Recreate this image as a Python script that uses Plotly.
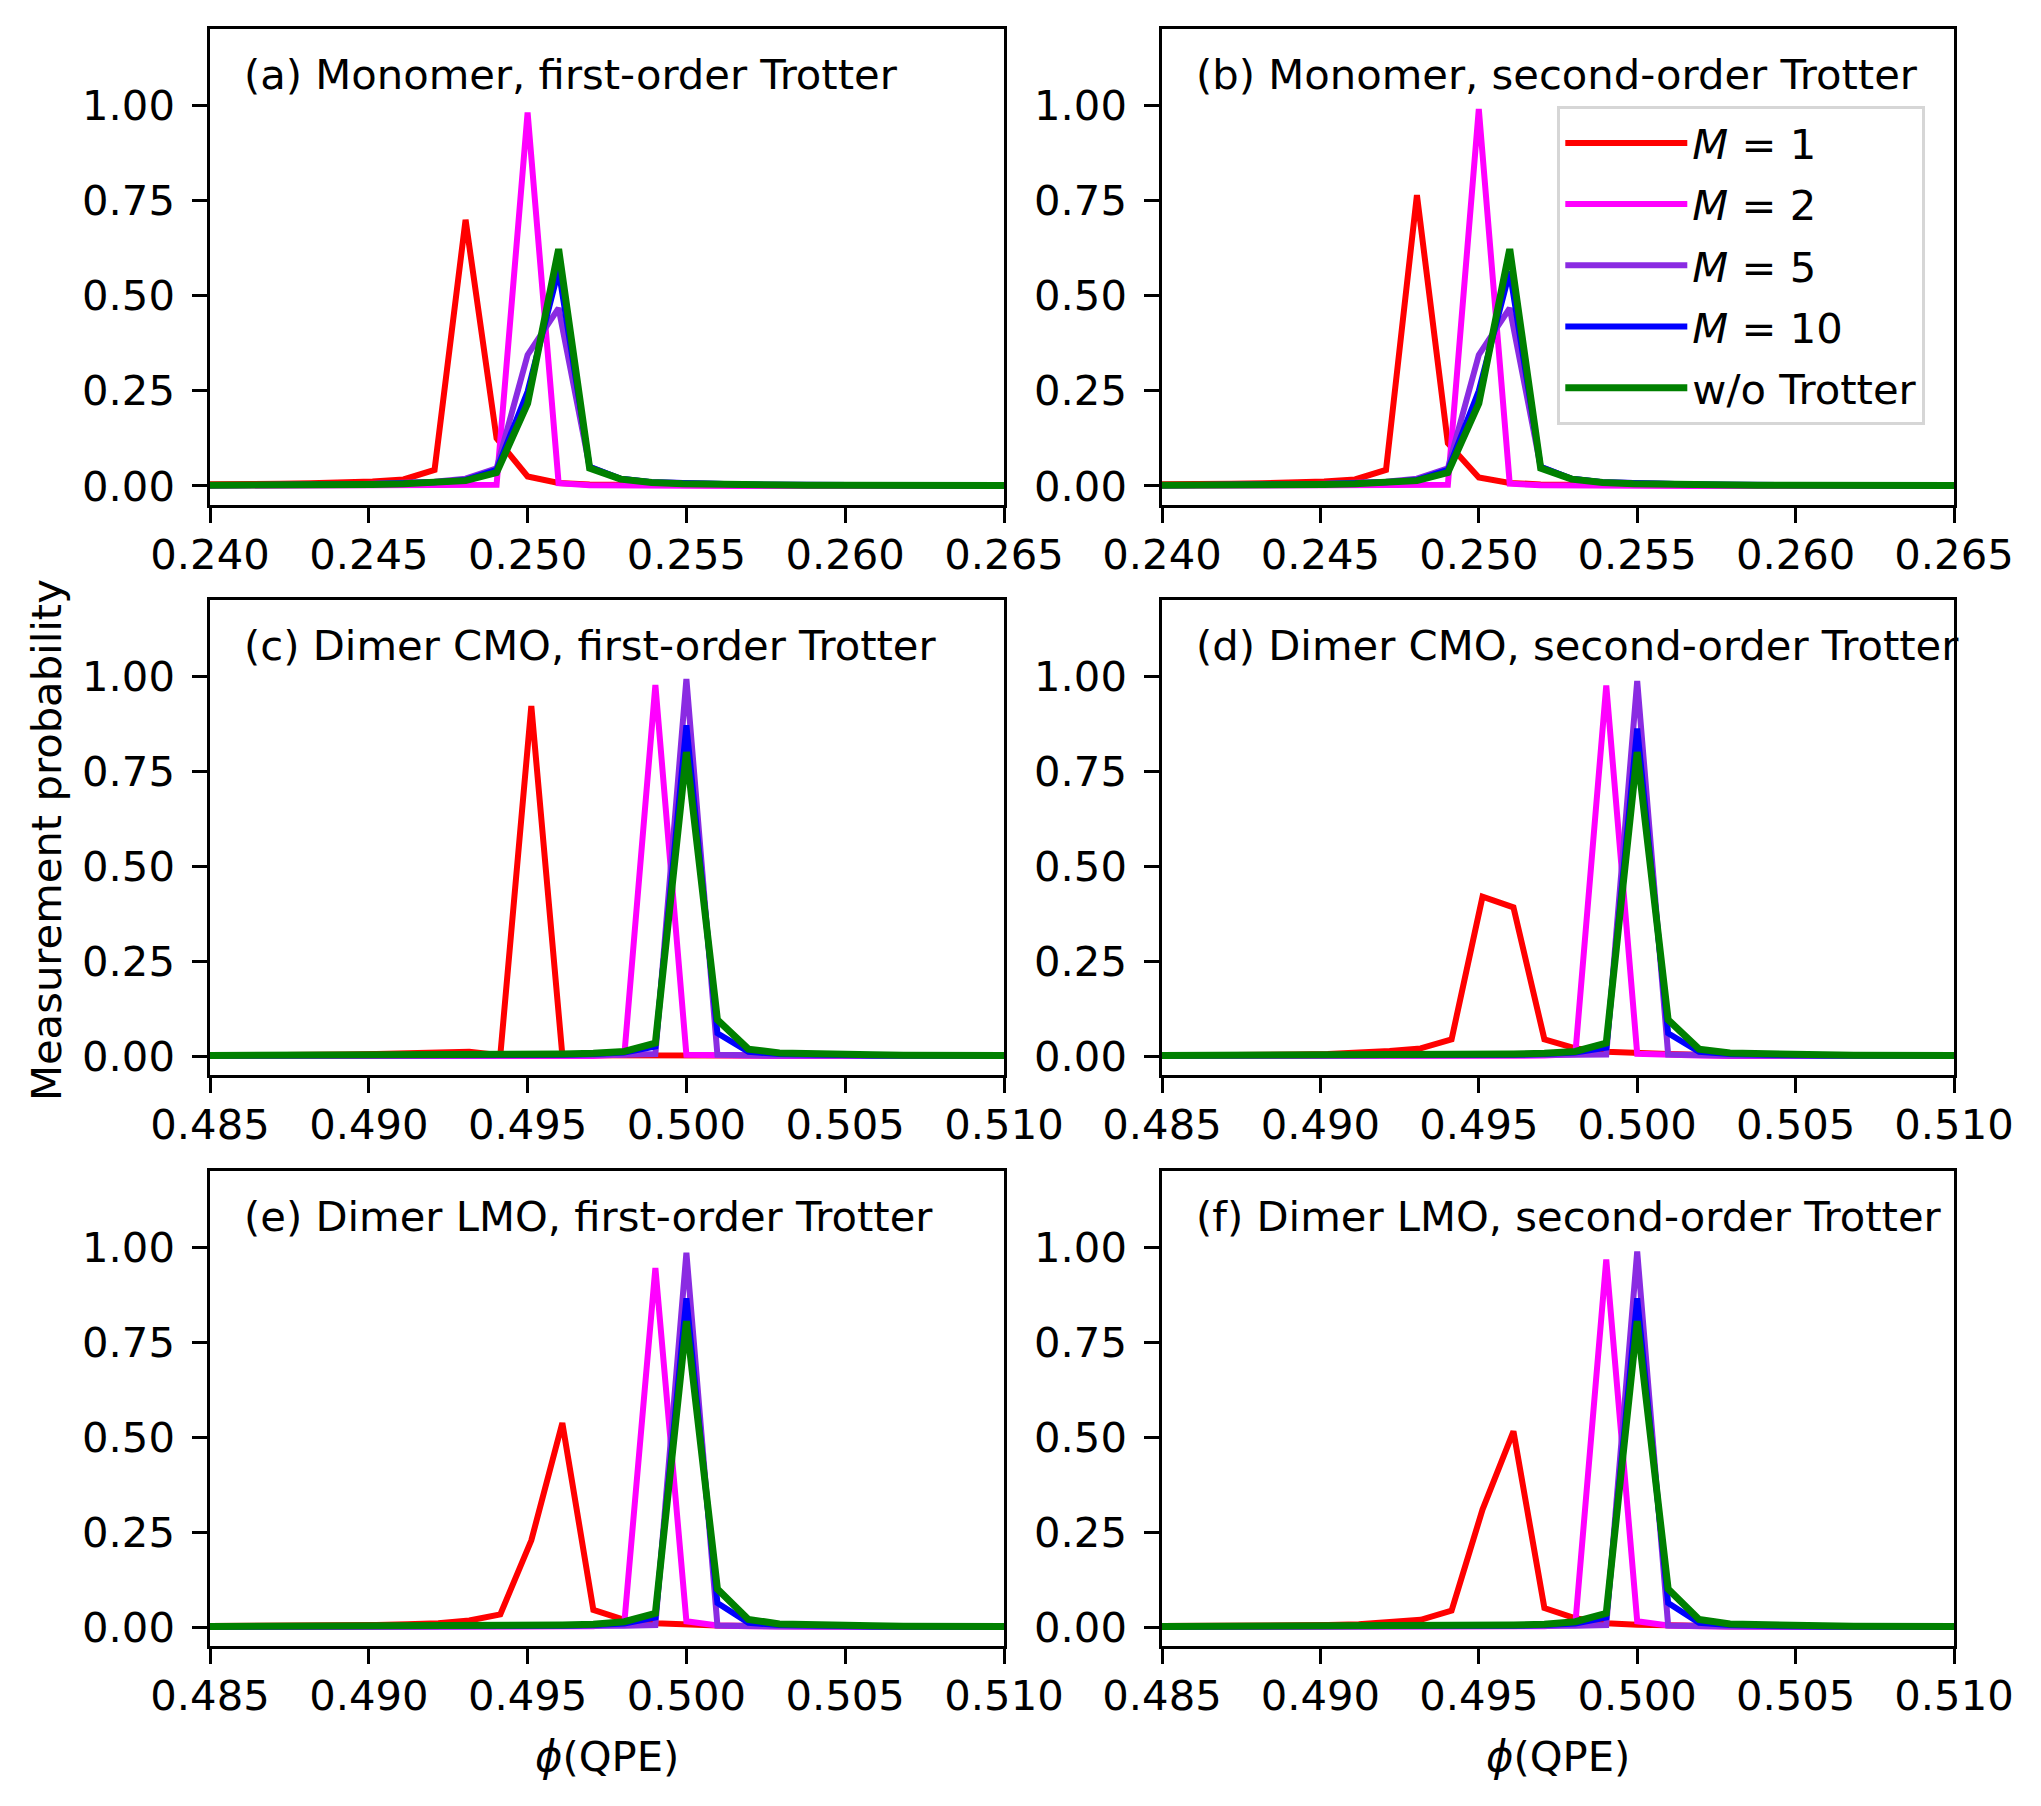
import plotly.graph_objects as go
from plotly.subplots import make_subplots

# QPE register bins (10 qubits) shown in each window
bins_mono = list(range(244, 274))
bins_dimer = list(range(496, 524))
phi_mono = [k / 1024 for k in bins_mono]
phi_dimer = [k / 1024 for k in bins_dimer]

series_names = ["<i>M</i> = 1", "<i>M</i> = 2", "<i>M</i> = 5", "<i>M</i> = 10", "w/o Trotter"]
series_colors = ["#ff0000", "#ff00ff", "#8a2be2", "#0000ff", "#008000"]

panel_titles = [
    "(a) Monomer, first-order Trotter",
    "(b) Monomer, second-order Trotter",
    "(c) Dimer CMO, first-order Trotter",
    "(d) Dimer CMO, second-order Trotter",
    "(e) Dimer LMO, first-order Trotter",
    "(f) Dimer LMO, second-order Trotter",
]

# === (a) monomer, first order (bins 244..273) ===
a_m1 = [0.003, 0.003, 0.004, 0.005, 0.006, 0.007, 0.009, 0.012, 0.017, 0.042, 0.699, 0.125, 0.025, 0.008, 0.004,
        0.003, 0.002, 0.002, 0.001, 0.001, 0.001, 0.001, 0.001, 0.001, 0.001, 0.001, 0.001, 0.001, 0.001, 0.001]
a_m2 = [0.0, 0.0, 0.0, 0.0, 0.0, 0.0, 0.0, 0.0, 0.0, 0.0, 0.0, 0.003, 0.981, 0.007, 0.002,
        0.001, 0.001, 0.0, 0.0, 0.0, 0.0, 0.0, 0.0, 0.0, 0.0, 0.0, 0.0, 0.0, 0.0, 0.0]
a_m5 = [0.001, 0.001, 0.002, 0.002, 0.003, 0.003, 0.004, 0.006, 0.008, 0.011, 0.019, 0.046, 0.344, 0.467, 0.050,
        0.019, 0.010, 0.007, 0.005, 0.004, 0.003, 0.003, 0.002, 0.002, 0.002, 0.001, 0.001, 0.001, 0.001, 0.001]
a_m10 = [0.001, 0.001, 0.002, 0.002, 0.002, 0.003, 0.004, 0.005, 0.007, 0.010, 0.016, 0.042, 0.248, 0.567, 0.050,
         0.019, 0.010, 0.007, 0.005, 0.004, 0.003, 0.003, 0.002, 0.002, 0.002, 0.001, 0.001, 0.001, 0.001, 0.001]
a_exact = [0.001, 0.001, 0.002, 0.002, 0.002, 0.003, 0.003, 0.004, 0.006, 0.009, 0.014, 0.035, 0.217, 0.622, 0.047,
           0.018, 0.009, 0.006, 0.004, 0.003, 0.003, 0.002, 0.002, 0.002, 0.001, 0.001, 0.001, 0.001, 0.001, 0.001]

# === (b) monomer, second order ===
b_m1 = [0.003, 0.003, 0.004, 0.005, 0.006, 0.007, 0.009, 0.012, 0.017, 0.042, 0.764, 0.112, 0.022, 0.008, 0.004,
        0.003, 0.002, 0.002, 0.001, 0.001, 0.001, 0.001, 0.001, 0.001, 0.001, 0.001, 0.001, 0.001, 0.001, 0.001]
b_m2 = [0.0, 0.0, 0.0, 0.0, 0.0, 0.0, 0.0, 0.0, 0.0, 0.0, 0.0, 0.003, 0.990, 0.006, 0.002,
        0.001, 0.001, 0.0, 0.0, 0.0, 0.0, 0.0, 0.0, 0.0, 0.0, 0.0, 0.0, 0.0, 0.0, 0.0]
b_m5 = [0.001, 0.001, 0.002, 0.002, 0.003, 0.003, 0.004, 0.006, 0.008, 0.011, 0.019, 0.046, 0.344, 0.467, 0.050,
        0.019, 0.010, 0.007, 0.005, 0.004, 0.003, 0.003, 0.002, 0.002, 0.002, 0.001, 0.001, 0.001, 0.001, 0.001]
b_m10 = [0.001, 0.001, 0.002, 0.002, 0.002, 0.003, 0.004, 0.005, 0.007, 0.010, 0.016, 0.042, 0.250, 0.563, 0.050,
         0.019, 0.010, 0.007, 0.005, 0.004, 0.003, 0.003, 0.002, 0.002, 0.002, 0.001, 0.001, 0.001, 0.001, 0.001]
b_exact = [0.001, 0.001, 0.002, 0.002, 0.002, 0.003, 0.003, 0.004, 0.006, 0.009, 0.014, 0.035, 0.217, 0.622, 0.047,
           0.018, 0.009, 0.006, 0.004, 0.003, 0.003, 0.002, 0.002, 0.002, 0.001, 0.001, 0.001, 0.001, 0.001, 0.001]

# === (c) dimer CMO, first order (bins 496..523) ===
c_m1 = [0.001, 0.001, 0.002, 0.002, 0.003, 0.004, 0.005, 0.007, 0.009, 0.011, 0.002, 0.921, 0.002, 0.002,
        0.001, 0.001, 0.001, 0.001, 0.001, 0.001, 0.001, 0.001, 0.001, 0.001, 0.001, 0.001, 0.001, 0.001]
c_m2 = [0.0, 0.0, 0.0, 0.0, 0.0, 0.0, 0.0, 0.0, 0.0, 0.0, 0.0, 0.0, 0.0, 0.0,
        0.004, 0.976, 0.003, 0.001, 0.0, 0.0, 0.0, 0.0, 0.0, 0.0, 0.0, 0.0, 0.0, 0.0]
c_m5 = [0.0, 0.0, 0.0, 0.0, 0.0, 0.0, 0.0, 0.0, 0.001, 0.001, 0.001, 0.001, 0.002, 0.002,
        0.003, 0.005, 0.992, 0.003, 0.001, 0.001, 0.001, 0.0, 0.0, 0.0, 0.0, 0.0, 0.0, 0.0]
c_m10 = [0.001, 0.001, 0.001, 0.001, 0.001, 0.001, 0.001, 0.001, 0.001, 0.002, 0.002, 0.002, 0.003, 0.005,
         0.009, 0.025, 0.870, 0.060, 0.011, 0.005, 0.003, 0.002, 0.001, 0.001, 0.001, 0.001, 0.001, 0.001]
c_exact = [0.001, 0.001, 0.001, 0.001, 0.001, 0.001, 0.001, 0.001, 0.002, 0.002, 0.003, 0.004, 0.005, 0.007,
           0.012, 0.034, 0.800, 0.095, 0.018, 0.008, 0.005, 0.003, 0.003, 0.002, 0.002, 0.001, 0.001, 0.001]

# === (d) dimer CMO, second order ===
d_m1 = [0.001, 0.001, 0.002, 0.002, 0.003, 0.004, 0.005, 0.008, 0.013, 0.020, 0.044, 0.419, 0.391, 0.044,
        0.020, 0.011, 0.007, 0.005, 0.003, 0.003, 0.002, 0.002, 0.002, 0.001, 0.001, 0.001, 0.001, 0.001]
d_m2 = [0.0, 0.0, 0.0, 0.0, 0.0, 0.0, 0.0, 0.0, 0.0, 0.0, 0.0, 0.0, 0.0, 0.001,
        0.005, 0.975, 0.006, 0.002, 0.001, 0.0, 0.0, 0.0, 0.0, 0.0, 0.0, 0.0, 0.0, 0.0]
d_m5 = [0.0, 0.0, 0.0, 0.0, 0.0, 0.0, 0.0, 0.0, 0.001, 0.001, 0.001, 0.001, 0.002, 0.002,
        0.003, 0.004, 0.987, 0.004, 0.001, 0.001, 0.001, 0.0, 0.0, 0.0, 0.0, 0.0, 0.0, 0.0]
d_m10 = [0.001, 0.001, 0.001, 0.001, 0.001, 0.001, 0.001, 0.001, 0.001, 0.002, 0.002, 0.002, 0.003, 0.005,
         0.009, 0.022, 0.862, 0.060, 0.011, 0.005, 0.003, 0.002, 0.001, 0.001, 0.001, 0.001, 0.001, 0.001]
d_exact = [0.001, 0.001, 0.001, 0.001, 0.001, 0.001, 0.001, 0.001, 0.002, 0.002, 0.003, 0.004, 0.005, 0.007,
           0.012, 0.034, 0.800, 0.095, 0.018, 0.008, 0.005, 0.003, 0.003, 0.002, 0.002, 0.001, 0.001, 0.001]

# === (e) dimer LMO, first order ===
e_m1 = [0.002, 0.002, 0.002, 0.003, 0.003, 0.004, 0.005, 0.007, 0.010, 0.017, 0.033, 0.228, 0.537, 0.045,
        0.019, 0.010, 0.006, 0.004, 0.003, 0.002, 0.002, 0.002, 0.001, 0.001, 0.001, 0.001, 0.001, 0.001]
e_m2 = [0.0, 0.0, 0.0, 0.0, 0.0, 0.0, 0.0, 0.0, 0.0, 0.0, 0.0, 0.0, 0.001, 0.002,
        0.012, 0.945, 0.015, 0.004, 0.002, 0.001, 0.001, 0.0, 0.0, 0.0, 0.0, 0.0, 0.0, 0.0]
e_m5 = [0.0, 0.0, 0.0, 0.0, 0.0, 0.0, 0.0, 0.0, 0.001, 0.001, 0.001, 0.001, 0.002, 0.002,
        0.003, 0.005, 0.985, 0.004, 0.001, 0.001, 0.001, 0.0, 0.0, 0.0, 0.0, 0.0, 0.0, 0.0]
e_m10 = [0.001, 0.001, 0.001, 0.001, 0.001, 0.001, 0.001, 0.001, 0.001, 0.002, 0.002, 0.002, 0.003, 0.005,
         0.009, 0.025, 0.865, 0.063, 0.011, 0.005, 0.003, 0.002, 0.001, 0.001, 0.001, 0.001, 0.001, 0.001]
e_exact = [0.001, 0.001, 0.001, 0.001, 0.001, 0.001, 0.001, 0.001, 0.002, 0.002, 0.003, 0.004, 0.005, 0.007,
           0.014, 0.036, 0.805, 0.100, 0.020, 0.008, 0.005, 0.003, 0.003, 0.002, 0.002, 0.001, 0.001, 0.001]

# === (f) dimer LMO, second order ===
f_m1 = [0.002, 0.002, 0.002, 0.003, 0.003, 0.004, 0.005, 0.007, 0.012, 0.019, 0.043, 0.309, 0.515, 0.050,
        0.023, 0.010, 0.006, 0.004, 0.003, 0.002, 0.002, 0.002, 0.001, 0.001, 0.001, 0.001, 0.001, 0.001]
f_m2 = [0.0, 0.0, 0.0, 0.0, 0.0, 0.0, 0.0, 0.0, 0.0, 0.0, 0.0, 0.0, 0.001, 0.002,
        0.008, 0.967, 0.015, 0.004, 0.002, 0.001, 0.001, 0.0, 0.0, 0.0, 0.0, 0.0, 0.0, 0.0]
f_m5 = [0.0, 0.0, 0.0, 0.0, 0.0, 0.0, 0.0, 0.0, 0.001, 0.001, 0.001, 0.001, 0.002, 0.002,
        0.003, 0.005, 0.988, 0.004, 0.001, 0.001, 0.001, 0.0, 0.0, 0.0, 0.0, 0.0, 0.0, 0.0]
f_m10 = [0.001, 0.001, 0.001, 0.001, 0.001, 0.001, 0.001, 0.001, 0.001, 0.002, 0.002, 0.002, 0.003, 0.005,
         0.009, 0.025, 0.865, 0.063, 0.011, 0.005, 0.003, 0.002, 0.001, 0.001, 0.001, 0.001, 0.001, 0.001]
f_exact = [0.001, 0.001, 0.001, 0.001, 0.001, 0.001, 0.001, 0.001, 0.002, 0.002, 0.003, 0.004, 0.005, 0.007,
           0.014, 0.036, 0.805, 0.100, 0.020, 0.008, 0.005, 0.003, 0.003, 0.002, 0.002, 0.001, 0.001, 0.001]

panels = [
    (phi_mono, [a_m1, a_m2, a_m5, a_m10, a_exact], [0.240, 0.265]),
    (phi_mono, [b_m1, b_m2, b_m5, b_m10, b_exact], [0.240, 0.265]),
    (phi_dimer, [c_m1, c_m2, c_m5, c_m10, c_exact], [0.485, 0.510]),
    (phi_dimer, [d_m1, d_m2, d_m5, d_m10, d_exact], [0.485, 0.510]),
    (phi_dimer, [e_m1, e_m2, e_m5, e_m10, e_exact], [0.485, 0.510]),
    (phi_dimer, [f_m1, f_m2, f_m5, f_m10, f_exact], [0.485, 0.510]),
]

# page body has an 8 px margin, so the figure is a bit smaller than the window
OFF = 8
W, H = 2041 - OFF, 1806 - OFF
FS = 41.7


def px_x(p):
    return (p - OFF) / W


def px_y(p):
    return 1 - (p - OFF) / H


col_px = [(210, 1004), (1162, 1954)]
row_px = [(29, 505), (600, 1075), (1171, 1646)]

fig = make_subplots(rows=3, cols=2)

for i, (phi, ys, xr) in enumerate(panels):
    r, c = i // 2 + 1, i % 2 + 1
    for name, color, y in zip(series_names, series_colors, ys):
        fig.add_trace(go.Scatter(
            x=phi, y=y, mode="lines", name=name,
            line=dict(color=color, width=7 if name == "w/o Trotter" else 6),
            showlegend=(i == 1), legendgroup=name,
        ), row=r, col=c)

    x0, x1 = col_px[c - 1]
    y0, y1 = row_px[r - 1]
    fig.update_xaxes(
        domain=[px_x(x0), px_x(x1)], range=xr, tick0=xr[0], dtick=0.005, tickformat=".3f",
        showline=True, mirror=True, linecolor="black", linewidth=3.3,
        ticks="outside", ticklen=14.6, tickwidth=3.3, tickcolor="black", ticklabelstandoff=-4,
        showgrid=False, zeroline=False, automargin=False, row=r, col=c,
    )
    fig.update_yaxes(
        domain=[px_y(y1), px_y(y0)], range=[-0.05, 1.2],
        tickvals=[0, 0.25, 0.5, 0.75, 1.0], tickformat=".2f",
        showline=True, mirror=True, linecolor="black", linewidth=3.3,
        ticks="outside", ticklen=14.6, tickwidth=3.3, tickcolor="black", ticklabelstandoff=9,
        showgrid=False, zeroline=False, automargin=False, row=r, col=c,
    )
    sfx = "" if i == 0 else str(i + 1)
    fig.add_annotation(
        text=panel_titles[i], xref=f"x{sfx} domain", yref=f"y{sfx} domain",
        x=0.04, y=0.905, xanchor="left", yanchor="middle", showarrow=False,
        font=dict(size=FS, color="black"),
    )

# === общие подписи осей ===
fig.add_annotation(
    text="Measurement probability", xref="paper", yref="paper",
    x=px_x(46), y=px_y(840), xanchor="center", yanchor="middle", textangle=-90, showarrow=False,
    font=dict(size=FS, color="black"),
)
for c in range(2):
    x0, x1 = col_px[c]
    fig.add_annotation(
        text="<i>ϕ</i>(QPE)", xref="paper", yref="paper",
        x=px_x((x0 + x1) / 2), y=px_y(1756), xanchor="center", yanchor="middle", showarrow=False,
        font=dict(size=FS, color="black"),
    )

fig.update_layout(
    width=W, height=H,
    margin=dict(l=0, r=0, t=0, b=0),
    font=dict(family="DejaVu Sans", size=FS, color="black"),
    plot_bgcolor="white", paper_bgcolor="white",
    legend=dict(
        x=px_x(1557), y=px_y(106), xanchor="left", yanchor="top",
        bgcolor="white", bordercolor="#d6d6d6", borderwidth=3.3,
        font=dict(size=FS), traceorder="grouped", tracegroupgap=4,
        itemwidth=122,
    ),
)

fig.write_html("out.html")
